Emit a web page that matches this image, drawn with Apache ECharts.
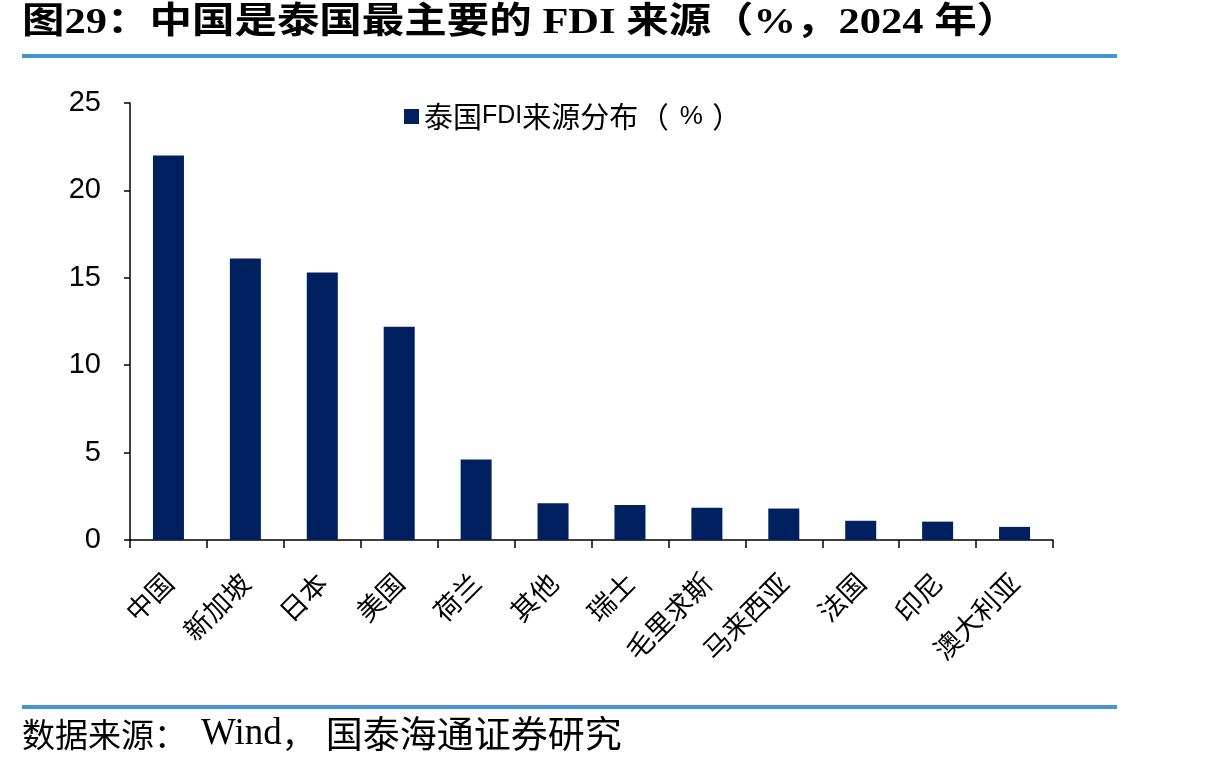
<!DOCTYPE html>
<html>
<head>
<meta charset="utf-8">
<style>
  html, body { margin: 0; padding: 0; background: #fff; }
  #chart { width: 1215px; height: 768px; }
</style>
<script src="https://cdn.jsdelivr.net/npm/echarts@6/dist/echarts.min.js"></script>
</head>
<body>
<div id="chart"></div>
<script>
var categories = ['中国', '新加坡', '日本', '美国', '荷兰', '其他', '瑞士', '毛里求斯', '马来西亚', '法国', '印尼', '澳大利亚'];
var shareValues = [22.0, 16.1, 15.3, 12.2, 4.6, 2.1, 2.0, 1.85, 1.8, 1.1, 1.05, 0.75];
var seriesName = '泰国FDI来源分布（%）';
var yTicks = [0, 5, 10, 15, 20, 25];

var SERIF = '"Liberation Serif", "Noto Sans CJK SC", serif';
var CJK = '"Noto Sans CJK SC", sans-serif';
var SANS = '"Liberation Sans", Arial, "Noto Sans CJK SC", sans-serif';

(function () {
  var chart = echarts.init(document.getElementById('chart'));
  var option = {
    backgroundColor: '#fff',
    animation: false,
    legend: {
      data: [seriesName],
      left: 399,
      top: 97,
      icon: 'rect',
      itemWidth: 15,
      itemHeight: 15,
      itemGap: 8,
      formatter: function () {
        // 全角括号单独成段，避免被挤窄
        return '{c|泰国}{l|FDI}{c|来源分布}{p|（}{m|%}{q|）}';
      },
      textStyle: {
        color: '#000',
        rich: {
          c: { fontFamily: CJK, fontSize: 29, color: '#000' },
          l: { fontFamily: SANS, fontSize: 25, color: '#000' },
          p: { fontFamily: CJK, fontSize: 29, color: '#000', width: 32, align: 'right' },
          m: { fontFamily: SANS, fontSize: 26, color: '#000', width: 42, align: 'center' },
          q: { fontFamily: CJK, fontSize: 29, color: '#000', width: 29, align: 'left' }
        }
      }
    },
    grid: { left: 130, right: 162, top: 103, bottom: 228, containLabel: false },
    xAxis: {
      type: 'category',
      data: categories,
      axisLine: { lineStyle: { color: '#000', width: 1.5 } },
      axisTick: { show: true, length: 8, lineStyle: { color: '#000', width: 1.5 } },
      axisLabel: {
        rotate: 45,
        interval: 0,
        margin: 38,
        fontFamily: CJK,
        fontSize: 27,
        color: '#000'
      }
    },
    yAxis: {
      type: 'value',
      min: yTicks[0],
      max: yTicks[yTicks.length - 1],
      interval: 5,
      axisLine: { show: true, lineStyle: { color: '#000', width: 1.5 } },
      axisTick: { show: true, length: 6, lineStyle: { color: '#000', width: 1.5 } },
      splitLine: { show: false },
      axisLabel: { fontFamily: SANS, fontSize: 29, color: '#000', margin: 29 }
    },
    graphic: [
      {
        type: 'text',
        x: 22,
        y: 24,
        scaleX: 1.18,
        style: {
          text: '图29：中国是泰国最主要的 FDI 来源（%，2024 年）',
          font: 'bold 36px ' + SERIF,
          fill: '#000',
          verticalAlign: 'middle'
        }
      },
      {
        type: 'rect',
        shape: { x: 22, y: 54, width: 1095, height: 4 },
        style: { fill: '#4595d6' }
      },
      {
        type: 'rect',
        shape: { x: 22, y: 705, width: 1095, height: 4 },
        style: { fill: '#4595d6' }
      },
      {
        type: 'text',
        x: 22,
        y: 734,
        style: {
          text: '{a|数据来源：}{w|Wind}{p|，}{b|国泰海通证券研究}',
          verticalAlign: 'middle',
          rich: {
            a: { fontFamily: CJK, fontSize: 33, color: '#000' },
            w: { fontFamily: SERIF, fontSize: 37, color: '#000', padding: [0, 0, 0, 14] },
            p: { fontFamily: CJK, fontSize: 33, color: '#000', width: 44, align: 'left' },
            b: { fontFamily: CJK, fontSize: 37, color: '#000' }
          }
        }
      }
    ],
    series: [
      {
        name: seriesName,
        type: 'bar',
        data: shareValues,
        barWidth: 31,
        itemStyle: { color: '#002060' }
      }
    ]
  };
  chart.setOption(option);
})();
</script>
</body>
</html>
